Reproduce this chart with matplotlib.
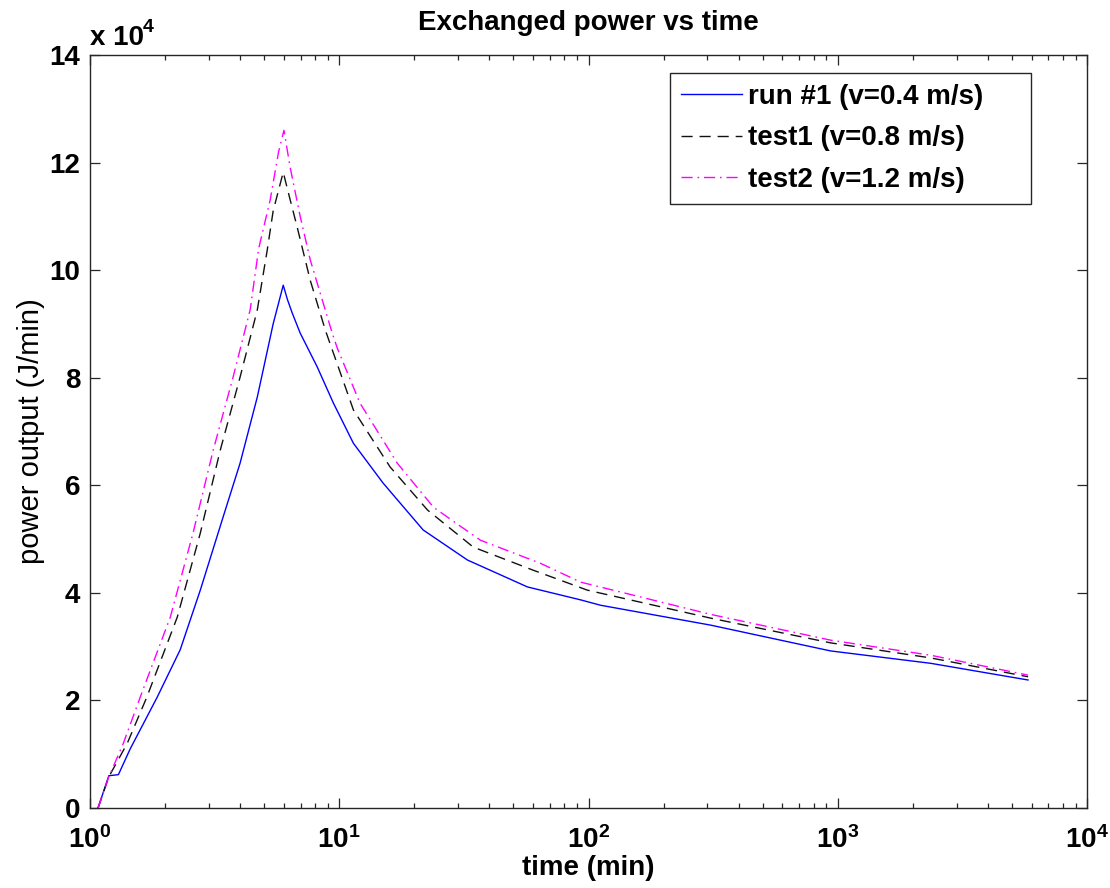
import numpy as np
import matplotlib
matplotlib.use('Agg')
import matplotlib.pyplot as plt
from matplotlib.ticker import FixedLocator, FuncFormatter, LogLocator, NullFormatter

# ---- data (time in min, power in J/min) ----
run1_t = [1.077, 1.19, 1.30, 1.45, 1.69, 1.86, 2.30, 2.77, 3.42, 4.0, 4.69, 5.43,
          5.96, 6.2, 6.48, 6.97, 8.16, 9.47, 11.4, 15.0, 21.7, 32.7, 56.9, 92.9,
          111.7, 309, 937, 2361, 5800]
run1_p = [0, 6000, 6200, 11000, 16900, 20600, 29400, 40500, 54100, 64100, 76400, 90000,
          97200, 94500, 92000, 88300, 82000, 75300, 67800, 60400, 51700, 46100, 41100, 38700,
          37700, 34000, 29200, 26900, 23800]

test1_t = [1.077, 1.19, 1.41, 1.69, 2.24, 2.77, 3.33, 4.0, 4.69, 5.14, 5.43, 5.96,
           6.36, 6.78, 7.65, 8.8, 11.4, 16.0, 22.6, 34.5, 60.1, 99, 309, 937, 2361, 5800]
test1_p = [0, 5800, 12000, 20600, 35500, 51100, 66500, 80100, 92600, 103700, 111000, 118200,
           113000, 108000, 98100, 88800, 74000, 63400, 55400, 48500, 44200, 40500, 35300,
           30700, 27900, 24400]

test2_t = [1.077, 1.19, 1.36, 1.59, 2.10, 2.59, 3.12, 3.75, 4.39, 4.75, 5.28, 5.71, 6.0,
           6.36, 6.97, 7.65, 9.37, 9.82, 12.1, 17.1, 23.9, 36.8, 64.1, 92.9, 309, 937, 2361, 5800]
test2_p = [0, 5800, 12000, 20600, 35500, 51100, 66500, 80100, 92600, 104000, 113000, 122000, 126000,
           119000, 110000, 101900, 88300, 85500, 75300, 64100, 55900, 49800, 45500, 42000,
           36000, 31200, 28400, 24700]

labels = ['run #1 (v=0.4 m/s)', 'test1 (v=0.8 m/s)', 'test2 (v=1.2 m/s)']
y_ticks = [0, 20000, 40000, 60000, 80000, 100000, 120000, 140000]
y_tick_labels = ['0', '2', '4', '6', '8', '10', '12', '14']

plt.rcParams['font.family'] = ['Liberation Sans', 'DejaVu Sans']
plt.rcParams['mathtext.fontset'] = 'custom'
plt.rcParams['mathtext.bf'] = 'Liberation Sans:bold'
plt.rcParams['mathtext.rm'] = 'Liberation Sans'

W, H = 1110, 888
fig = plt.figure(figsize=(W / 100, H / 100), dpi=100)
ax = fig.add_axes([90 / W, (H - 808) / H, (1087 - 90) / W, (808 - 55) / H])

ax.plot(run1_t, run1_p, color='#0000FF', lw=1.0, linestyle='-', label=labels[0])
ax.plot(test1_t, test1_p, color='#111111', lw=1.0, linestyle=(0, (8, 5)), label=labels[1])
ax.plot(test2_t, test2_p, color='#FF00FF', lw=1.0, linestyle=(0, (8, 3.5, 1.2, 3.5)), label=labels[2])

ax.set_xscale('log')
ax.set_xlim(1, 1e4)
ax.set_ylim(0, 140000)
ax.yaxis.set_major_locator(FixedLocator(y_ticks))
ax.set_yticklabels(y_tick_labels)
ax.xaxis.set_major_locator(LogLocator(base=10, numticks=10))
ax.xaxis.set_minor_locator(LogLocator(base=10, subs=np.arange(2, 10), numticks=100))
ax.xaxis.set_major_formatter(FuncFormatter(lambda v, p: r'$\mathbf{10^{%d}}$' % int(round(np.log10(v)))))
ax.xaxis.set_minor_formatter(NullFormatter())

spine_c = '#262626'
for s in ax.spines.values():
    s.set_color(spine_c)
    s.set_linewidth(1.0)
ax.tick_params(which='both', direction='in', top=True, right=True, colors=spine_c, width=0.9)
ax.tick_params(which='major', length=7.2, labelsize=20)
ax.tick_params(axis='y', which='major', pad=7)
ax.tick_params(axis='x', which='major', pad=13)
ax.tick_params(which='minor', length=3.6)
for lab in ax.get_yticklabels():
    lab.set_fontweight('bold')
    lab.set_color('black')
for lab in ax.get_xticklabels():
    lab.set_color('black')

ax.set_title('Exchanged power vs time', fontsize=20, fontweight='bold', pad=18)
ax.set_xlabel('time (min)', fontsize=20, fontweight='bold', labelpad=1)
ax.set_ylabel('power output (J/min)', fontsize=21, labelpad=3)

fig.text(90 / W, 1 - 45 / H, 'x 10', fontsize=20, fontweight='bold', va='baseline', ha='left')
fig.text(143 / W, 1 - 32 / H, '4', fontsize=14, fontweight='bold', va='baseline', ha='left')

x0 = (670 - 90) / 997
x1 = (1031 - 90) / 997
ytop = (808 - 73) / 753
leg = ax.legend(loc='upper left', bbox_to_anchor=(x0, ytop - 0.3, x1 - x0, 0.3), mode='expand',
                borderaxespad=0, fancybox=False, framealpha=1, edgecolor='#262626',
                prop={'family': 'Liberation Sans', 'weight': 'bold', 'size': 20},
                handlelength=2.2, handletextpad=0.2, labelspacing=0.55, borderpad=0.4)
leg.get_frame().set_linewidth(1.0)

fig.savefig('out.png', dpi=100)
